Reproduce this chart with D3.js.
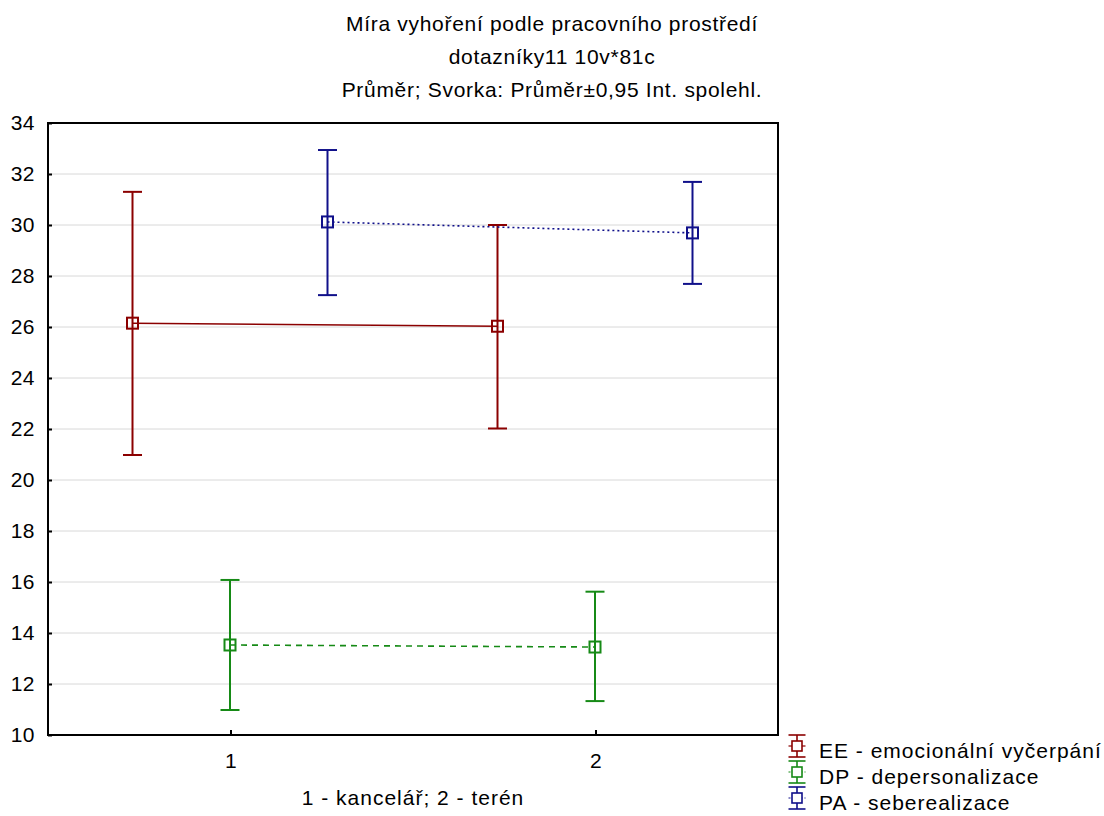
<!DOCTYPE html>
<html>
<head>
<meta charset="utf-8">
<script src="https://cdn.jsdelivr.net/npm/d3@7"></script>
<style>
body { margin:0; background:#fff; }
text { font-family: "Liberation Sans", Arial, sans-serif; fill:#000; }
</style>
</head>
<body>
<div id="chart"></div>
<script>
// data
var categories = ["1", "2"];
var seriesNames = ["EE - emocionální vyčerpání", "DP - depersonalizace", "PA - seberealizace"];
var eeMean = [26.15, 26.03];
var eeLow = [20.98, 22.02];
var eeHigh = [31.3, 30.0];
var dpMean = [13.53, 13.45];
var dpLow = [10.98, 11.33];
var dpHigh = [16.08, 15.62];
var paMean = [30.12, 29.69];
var paLow = [27.25, 27.69];
var paHigh = [32.94, 31.69];
var yTicks = [10, 12, 14, 16, 18, 20, 22, 24, 26, 28, 30, 32, 34];
var titleLines = ["Míra vyhoření podle pracovního prostředí", "dotazníky11 10v*81c", "Průměr; Svorka: Průměr±0,95 Int. spolehl."];

var colors = ["#8b0000", "#168a16", "#10108a"];
var dashes = [null, "6,5", "2,3"];

var svgWidth = 1104, svgHeight = 816;
var margin = {top: 123, left: 48, right: 326, bottom: 81};
var width = svgWidth - margin.left - margin.right;
var height = svgHeight - margin.top - margin.bottom;

var svg = d3.select("#chart").append("svg")
    .attr("width", svgWidth)
    .attr("height", svgHeight);

var g = svg.append("g").attr("transform", `translate(${margin.left},${margin.top})`);

var x = d3.scalePoint().domain(categories).range([0, width]).padding(0.5);
var offset = d3.scalePoint().domain(seriesNames).range([-98, 97]);
var y = d3.scaleLinear().domain([10, 34]).range([height, 0]);

// gridlines
g.append("g").selectAll("line")
    .data(yTicks.slice(1, -1))
    .enter().append("line")
    .attr("x1", 0).attr("x2", width)
    .attr("y1", d => y(d)).attr("y2", d => y(d))
    .attr("stroke", "#d8d8d8").attr("stroke-width", 1);

// axes (ticks pointing inward)
var yAxis = g.append("g")
    .call(d3.axisLeft(y).tickValues(yTicks).tickSizeInner(-4).tickSizeOuter(0).tickPadding(13));
var xAxis = g.append("g")
    .attr("transform", `translate(0,${height})`)
    .call(d3.axisBottom(x).tickSizeInner(-5).tickSizeOuter(0).tickPadding(18));
[yAxis, xAxis].forEach(function(a) {
    a.select(".domain").remove();
    a.selectAll("line").attr("stroke", "#000").attr("stroke-width", 2);
    a.selectAll("text")
        .style("font-size", "21px")
        .style("letter-spacing", "0.5px")
        .style("font-family", "Liberation Sans, Arial, sans-serif");
});

// frame
g.append("rect")
    .attr("x", 0).attr("y", 0).attr("width", width).attr("height", height)
    .attr("fill", "none").attr("stroke", "#000").attr("stroke-width", 2);

var series = [
    {name: seriesNames[0], mean: eeMean, low: eeLow, high: eeHigh},
    {name: seriesNames[1], mean: dpMean, low: dpLow, high: dpHigh},
    {name: seriesNames[2], mean: paMean, low: paLow, high: paHigh}
];

series.forEach(function(s, i) {
    var pts = categories.map(function(c, j) {
        return {cx: x(c) + offset(s.name), m: s.mean[j], lo: s.low[j], hi: s.high[j]};
    });
    var sg = g.append("g");
    sg.append("path")
        .datum(pts)
        .attr("fill", "none")
        .attr("stroke", colors[i])
        .attr("stroke-width", 1.6)
        .attr("stroke-dasharray", dashes[i])
        .attr("d", d3.line().x(d => d.cx).y(d => y(d.m)));
    var bars = sg.selectAll(".bar").data(pts).enter().append("g");
    bars.append("line")
        .attr("x1", d => d.cx).attr("x2", d => d.cx)
        .attr("y1", d => y(d.lo)).attr("y2", d => y(d.hi))
        .attr("stroke", colors[i]).attr("stroke-width", 2);
    bars.append("line")
        .attr("x1", d => d.cx - 9.5).attr("x2", d => d.cx + 9.5)
        .attr("y1", d => y(d.hi)).attr("y2", d => y(d.hi))
        .attr("stroke", colors[i]).attr("stroke-width", 2);
    bars.append("line")
        .attr("x1", d => d.cx - 9.5).attr("x2", d => d.cx + 9.5)
        .attr("y1", d => y(d.lo)).attr("y2", d => y(d.lo))
        .attr("stroke", colors[i]).attr("stroke-width", 2);
    bars.append("rect")
        .attr("x", d => d.cx - 5.5).attr("y", d => y(d.m) - 5.5)
        .attr("width", 11).attr("height", 11)
        .attr("fill", "none")
        .attr("stroke", colors[i]).attr("stroke-width", 2);
});

// title
svg.append("g").selectAll("text")
    .data(titleLines)
    .enter().append("text")
    .attr("x", 552)
    .attr("y", (d, i) => 31 + i * 33)
    .attr("text-anchor", "middle")
    .style("font-size", "21px")
    .style("letter-spacing", "0.7px")
    .text(d => d);

// x axis title
svg.append("text")
    .attr("x", margin.left + width / 2)
    .attr("y", 805)
    .attr("text-anchor", "middle")
    .style("font-size", "21px")
    .style("letter-spacing", "1px")
    .text("1 - kancelář; 2 - terén");

// legend
var legend = svg.append("g").attr("transform", "translate(797,746)");
var items = legend.selectAll("g").data(seriesNames).enter().append("g")
    .attr("transform", (d, i) => `translate(0,${i * 26})`);
items.append("line").attr("x1", 0).attr("x2", 0).attr("y1", -11).attr("y2", 11)
    .attr("stroke", (d, i) => colors[i]).attr("stroke-width", 1.6);
items.append("line").attr("x1", -8.5).attr("x2", 8.5).attr("y1", -11).attr("y2", -11)
    .attr("stroke", (d, i) => colors[i]).attr("stroke-width", 1.6);
items.append("line").attr("x1", -8.5).attr("x2", 8.5).attr("y1", 11).attr("y2", 11)
    .attr("stroke", (d, i) => colors[i]).attr("stroke-width", 1.6);
items.append("line").attr("x1", -8.5).attr("x2", 8.5).attr("y1", 0).attr("y2", 0)
    .attr("stroke", (d, i) => colors[i]).attr("stroke-width", 1.2)
    .attr("stroke-dasharray", (d, i) => dashes[i] ? "2,2" : null);
items.append("rect").attr("x", -5).attr("y", -5).attr("width", 10).attr("height", 10)
    .attr("fill", "#fff")
    .attr("stroke", (d, i) => colors[i]).attr("stroke-width", 1.6);
items.append("text")
    .attr("x", 22).attr("y", 12)
    .style("font-size", "21px")
    .style("letter-spacing", "1px")
    .text(d => d);
</script>
</body>
</html>
